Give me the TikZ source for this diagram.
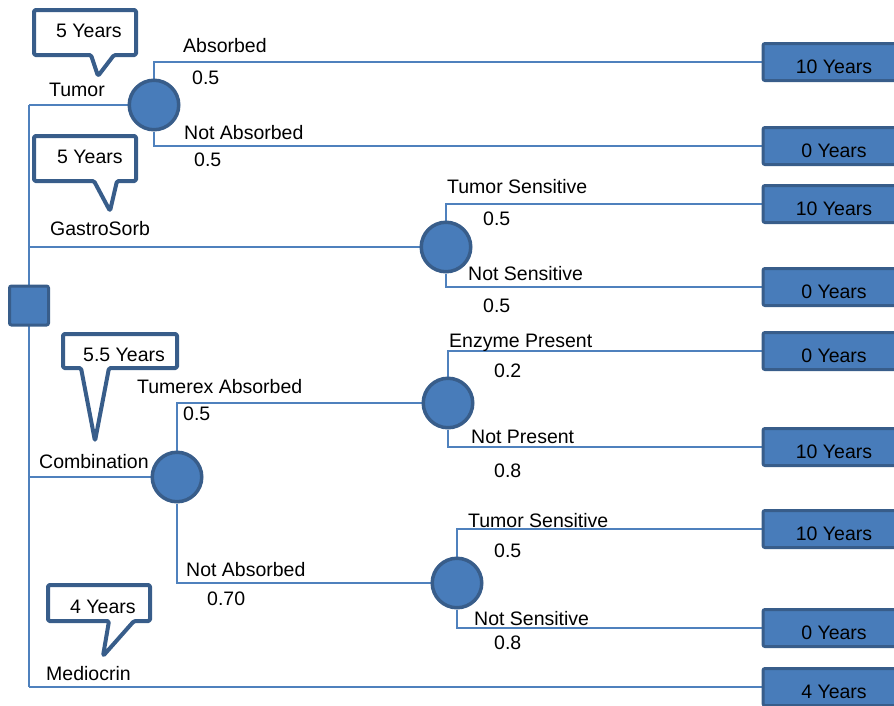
\documentclass[tikz,border=0pt]{standalone}
\usepackage{fontspec}
\setmainfont{Liberation Sans}
\usetikzlibrary{backgrounds}
\definecolor{nodefill}{RGB}{72,124,186}
\definecolor{nodeedge}{RGB}{56,93,138}
\definecolor{branchline}{RGB}{79,129,189}

\begin{document}
\begin{tikzpicture}[x=1pt,y=-1pt,
  font=\fontsize{19.5}{22}\selectfont,
  chance/.style={circle, fill=nodefill, draw=nodeedge, line width=3.5pt,
    minimum size=49.5pt, inner sep=0pt},
  decision/.style={rectangle, rounded corners=2pt, fill=nodefill, draw=nodeedge,
    line width=3pt, minimum size=39pt, inner sep=0pt},
  payoff/.style={rectangle, rounded corners=2pt, fill=nodefill, draw=nodeedge,
    line width=3pt, minimum width=142pt, minimum height=37pt, inner sep=0pt,
    text height=22pt, text depth=0pt},
  lbl/.style={anchor=base west, inner sep=0pt},
  branch/.style={draw=branchline, line width=1.6pt},
  bubble/.style={draw=nodeedge, fill=white, line width=4pt,
    rounded corners=1.5pt, line join=round}]

\useasboundingbox (0,0) rectangle (894,705);

% decision node and chance nodes
\node[decision] (dec) at (29,305.5) {};
\node[chance] (tumor) at (154,105) {};
\node[chance] (gastro) at (446,247) {};
\node[chance] (combo) at (177,477) {};
\node[chance] (tabs) at (448,403) {};
\node[chance] (tnot) at (457,583) {};

% payoff boxes
\node[payoff] (p1) at (834,62) {10 Years};
\node[payoff] (p2) at (834,146) {0 Years};
\node[payoff] (p3) at (834,204) {10 Years};
\node[payoff] (p4) at (834,287) {0 Years};
\node[payoff] (p5) at (834,351) {0 Years};
\node[payoff] (p6) at (834,447) {10 Years};
\node[payoff] (p7) at (834,529) {10 Years};
\node[payoff] (p8) at (834,628) {0 Years};
\node[payoff] (p9) at (834,687) {4 Years};

% junctions on the trunk
\coordinate (jtumor) at (29,105);
\coordinate (jgastro) at (29,247);
\coordinate (jcombo) at (29,477);
\coordinate (jmedio) at (29,687);

% connectors
\begin{scope}[on background layer]
  \draw[branch] (jtumor) -- (jmedio);
  \draw[branch] (jtumor) -- (tumor);
  \draw[branch] (jgastro) -- (gastro);
  \draw[branch] (jcombo) -- (combo);
  \draw[branch] (jmedio) -- (p9);
  \draw[branch] (tumor) |- (p1);
  \draw[branch] (tumor) |- (p2);
  \draw[branch] (gastro) |- (p3);
  \draw[branch] (gastro) |- (p4);
  \draw[branch] (combo) |- (tabs);
  \draw[branch] (combo) |- (tnot);
  \draw[branch] (tabs) |- (p5);
  \draw[branch] (tabs) |- (p6);
  \draw[branch] (tnot) |- (p7);
  \draw[branch] (tnot) |- (p8);
\end{scope}

% expected-value callouts
\draw[bubble] (34,10) -- (136,10) -- (136,55) -- (114,55) -- (98,76)
  -- (91,55) -- (34,55) -- cycle;
\node[lbl] (ev1) at (56,37) {5 Years};
\draw[bubble] (34,136) -- (136,136) -- (136,181) -- (117,181) -- (110,211)
  -- (94,181) -- (34,181) -- cycle;
\node[lbl] (ev2) at (57,163) {5 Years};
\draw[bubble] (63,334) -- (177,334) -- (177,368) -- (109,368) -- (95,441)
  -- (81,368) -- (63,368) -- cycle;
\node[lbl] (ev3) at (83,361) {5.5 Years};
\draw[bubble] (48,585) -- (150,585) -- (150,621) -- (134,621) -- (103,656)
  -- (109,621) -- (48,621) -- cycle;
\node[lbl] (ev4) at (70,613) {4 Years};

% option names
\node[lbl] (nTumor) at (49,96) {Tumor};
\node[lbl] (nGastro) at (50,235) {GastroSorb};
\node[lbl] (nCombo) at (39,468) {Combination};
\node[lbl] (nMedio) at (46,680) {Mediocrin};

% branch labels and probabilities
\node[lbl] (a1) at (183,52) {Absorbed};
\node[lbl] (a1p) at (192,84) {0.5};
\node[lbl] (a2) at (184,139) {Not Absorbed};
\node[lbl] (a2p) at (194,166) {0.5};

\node[lbl] (g1) at (447,193) {Tumor Sensitive};
\node[lbl] (g1p) at (483,225) {0.5};
\node[lbl] (g2) at (468,280) {Not Sensitive};
\node[lbl] (g2p) at (483,312) {0.5};

\node[lbl] (c1) at (137,393) {Tumerex Absorbed};
\node[lbl] (c1p) at (183,420) {0.5};
\node[lbl] (c2) at (186,576) {Not Absorbed};
\node[lbl] (c2p) at (207,605) {0.70};

\node[lbl] (e1) at (449,347) {Enzyme Present};
\node[lbl] (e1p) at (494,377) {0.2};
\node[lbl] (e2) at (471,443) {Not Present};
\node[lbl] (e2p) at (494,477) {0.8};

\node[lbl] (s1) at (468,527) {Tumor Sensitive};
\node[lbl] (s1p) at (494,557) {0.5};
\node[lbl] (s2) at (474,625) {Not Sensitive};
\node[lbl] (s2p) at (494,649) {0.8};
\end{tikzpicture}
\end{document}
